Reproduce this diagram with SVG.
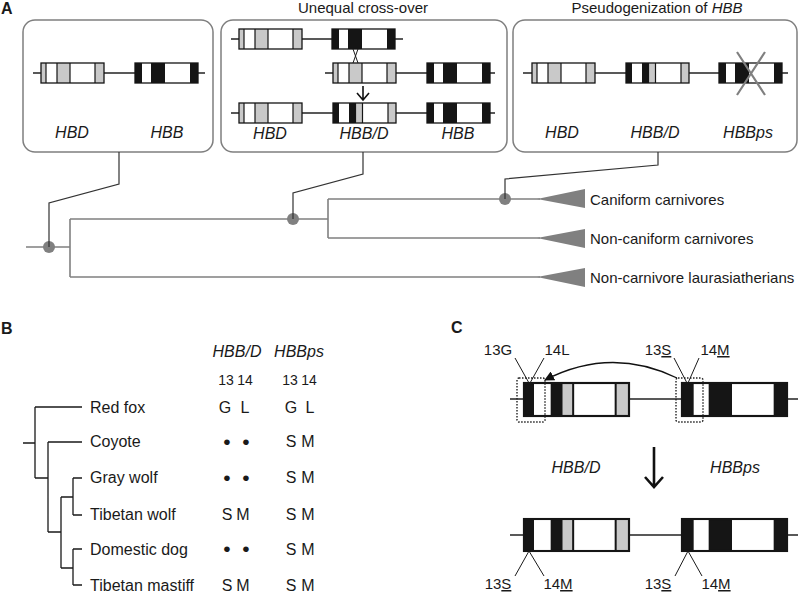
<svg xmlns="http://www.w3.org/2000/svg" xmlns:xlink="http://www.w3.org/1999/xlink" width="799" height="594" viewBox="0 0 799 594">
<style>
text{font-family:"Liberation Sans",Arial,sans-serif;fill:#1a1a1a}
.pl{font-size:16px;font-weight:bold}
.ti{font-size:15px}
.gn{font-size:16px;font-style:italic;text-anchor:middle}
.tx{font-size:15px}
.sp{font-size:16px}
.vl{font-size:16px;text-anchor:middle}
.bu{font-size:21px;text-anchor:middle}
.nm{font-size:14px;text-anchor:middle}
.box{fill:#fff;stroke:#7f7f7f;stroke-width:1.5}
.intr{stroke:#222;stroke-width:1.3;fill:none}
.tr{stroke:#808080;stroke-width:1.6;fill:none}
.cn{stroke:#333;stroke-width:1.2;fill:none}
.dot{fill:#808080}
.gr{fill:#c9c9c9}
.bk{fill:#151515}
.dv{stroke:#151515;stroke-width:1.2;fill:none}
.ol{fill:none;stroke:#151515;stroke-width:1.3}
.ln{stroke:#1a1a1a;stroke-width:1;fill:none}
.dt{fill:none;stroke:#222;stroke-width:1.4;stroke-dasharray:1.5 1.5}
.ul{text-decoration:underline}
</style>
<defs>
<symbol id="gD" viewBox="0 0 63 20" preserveAspectRatio="none" overflow="visible">
<rect width="63" height="20" fill="#fff"/>
<rect x="0" width="5" height="20" class="gr"/>
<rect x="16" width="13" height="20" class="gr"/>
<rect x="54" width="9" height="20" class="gr"/>
<path d="M5,0V20M16,0V20M29,0V20M54,0V20" class="dv"/>
<rect width="63" height="20" class="ol"/>
</symbol>
<symbol id="gB" viewBox="0 0 63 20" preserveAspectRatio="none" overflow="visible">
<rect width="63" height="20" fill="#fff"/>
<rect x="0" width="7" height="20" class="bk"/>
<rect x="16" width="14" height="20" class="bk"/>
<rect x="55" width="8" height="20" class="bk"/>
<rect width="63" height="20" class="ol"/>
</symbol>
<symbol id="gBD" viewBox="0 0 63 20" preserveAspectRatio="none" overflow="visible">
<rect width="63" height="20" fill="#fff"/>
<rect x="0" width="6" height="20" class="bk"/>
<rect x="16" width="6.5" height="20" class="bk"/>
<rect x="22.5" width="7" height="20" class="gr"/>
<rect x="55" width="8" height="20" class="gr"/>
<path d="M22.5,0V20M29.5,0V20M55,0V20" class="dv"/>
<rect width="63" height="20" class="ol"/>
</symbol>
<marker id="ah" viewBox="0 0 10 10" refX="9" refY="5" markerWidth="10" markerHeight="10" markerUnits="userSpaceOnUse" orient="auto">
<path d="M0,0L10,5L0,10Z" fill="#111"/>
</marker>
</defs>

<rect width="799" height="594" fill="#fff"/>

<!-- Panel A -->
<text class="pl" x="1" y="14">A</text>

<g id="box1">
<rect class="box" x="23" y="20" width="190" height="132" rx="12"/>
<line class="intr" x1="33" y1="73" x2="205" y2="73"/>
<use xlink:href="#gD" x="41" y="63" width="63" height="20"/>
<use xlink:href="#gB" x="135" y="63" width="63" height="20"/>
<text class="gn" x="72" y="138">HBD</text>
<text class="gn" x="167" y="138">HBB</text>
</g>

<g id="box2">
<text class="ti" x="363" y="13" text-anchor="middle">Unequal cross-over</text>
<rect class="box" x="221" y="20" width="286" height="132" rx="12"/>
<line class="intr" x1="231" y1="39" x2="403" y2="39"/>
<use xlink:href="#gD" x="239" y="29" width="63" height="20"/>
<use xlink:href="#gB" x="332" y="29" width="63" height="20"/>
<path class="ln" d="M353,49L358,63M358,49L353,63"/>
<line class="intr" x1="325" y1="73" x2="495" y2="73"/>
<use xlink:href="#gD" x="333" y="63" width="63" height="20"/>
<use xlink:href="#gB" x="427" y="63" width="63" height="20"/>
<path d="M363,86V100M357,93L363,100L369,93" stroke="#111" stroke-width="1.6" fill="none"/>
<line class="intr" x1="231" y1="113" x2="495" y2="113"/>
<use xlink:href="#gD" x="239" y="103" width="63" height="20"/>
<use xlink:href="#gBD" x="333" y="103" width="63" height="20"/>
<use xlink:href="#gB" x="427" y="103" width="63" height="20"/>
<text class="gn" x="270" y="139">HBD</text>
<text class="gn" x="364" y="139">HBB/D</text>
<text class="gn" x="458" y="139">HBB</text>
</g>

<g id="box3">
<text class="ti" x="657" y="13" text-anchor="middle">Pseudogenization of <tspan font-style="italic">HBB</tspan></text>
<rect class="box" x="513" y="20" width="284" height="132" rx="12"/>
<line class="intr" x1="523" y1="73" x2="788" y2="73"/>
<use xlink:href="#gD" x="532" y="63" width="63" height="20"/>
<use xlink:href="#gBD" x="626" y="63" width="63" height="20"/>
<use xlink:href="#gB" x="719" y="63" width="63" height="20"/>
<path d="M737,52L765,95M765,52L737,95" stroke="#808080" stroke-width="2.2" fill="none"/>
<text class="gn" x="562" y="138">HBD</text>
<text class="gn" x="655" y="138">HBB/D</text>
<text class="gn" x="748" y="138">HBBps</text>
</g>

<g id="treeA">
<path class="tr" d="M26,247H70M70,219V277M70,219H328M328,199V238M328,199H540M328,238H540M70,277H540"/>
<path class="dot" d="M537,199L585,189V208Z"/>
<path class="dot" d="M537,238L585,229V248Z"/>
<path class="dot" d="M537,277L585,268V287Z"/>
<circle class="dot" cx="49" cy="247" r="6"/>
<circle class="dot" cx="293" cy="219" r="6"/>
<circle class="dot" cx="505" cy="199" r="6"/>
<text class="tx" x="590" y="205">Caniform carnivores</text>
<text class="tx" x="590" y="244">Non-caniform carnivores</text>
<text class="tx" x="590" y="283">Non-carnivore laurasiatherians</text>
</g>

<g id="connectors">
<path class="cn" d="M119,152V184L49,203V247"/>
<path class="cn" d="M363,152V174L293,193V219"/>
<path class="cn" d="M658,152V165L505,179V199"/>
</g>

<!-- Panel B -->
<text class="pl" x="1" y="334">B</text>
<g id="treeB">
<path stroke="#1a1a1a" stroke-width="1.3" fill="none" d="M23,443H35M35,407V478M35,407H82M35,478H48M48,442V532M48,442H82M48,532H61M61,497V568M61,497H73M73,478V515M73,478H82M73,515H82M61,568H73M73,549V585M73,549H82M73,585H82"/>
<text class="sp" x="90" y="413">Red fox</text>
<text class="sp" x="90" y="447">Coyote</text>
<text class="sp" x="90" y="483">Gray wolf</text>
<text class="sp" x="90" y="520">Tibetan wolf</text>
<text class="sp" x="90" y="555">Domestic dog</text>
<text class="sp" x="90" y="591">Tibetan mastiff</text>
</g>
<g id="tableB">
<text class="gn" x="237" y="357">HBB/D</text>
<text class="gn" x="299" y="357">HBBps</text>
<text class="nm" x="226" y="385">13</text><text class="nm" x="245" y="385">14</text>
<text class="nm" x="290" y="385">13</text><text class="nm" x="309" y="385">14</text>
<text class="vl" x="225" y="413">G</text><text class="vl" x="245" y="413">L</text>
<text class="vl" x="291" y="413">G</text><text class="vl" x="310" y="413">L</text>
<text class="bu" x="227" y="449">•</text><text class="bu" x="246" y="449">•</text>
<text class="vl" x="291" y="447">S</text><text class="vl" x="308" y="447">M</text>
<text class="bu" x="227" y="485">•</text><text class="bu" x="246" y="485">•</text>
<text class="vl" x="291" y="483">S</text><text class="vl" x="308" y="483">M</text>
<text class="vl" x="227" y="520">S</text><text class="vl" x="243" y="520">M</text>
<text class="vl" x="291" y="520">S</text><text class="vl" x="308" y="520">M</text>
<text class="bu" x="227" y="556">•</text><text class="bu" x="246" y="556">•</text>
<text class="vl" x="291" y="555">S</text><text class="vl" x="308" y="555">M</text>
<text class="vl" x="227" y="591">S</text><text class="vl" x="243" y="591">M</text>
<text class="vl" x="291" y="591">S</text><text class="vl" x="308" y="591">M</text>
</g>

<!-- Panel C -->
<text class="pl" x="451" y="333">C</text>
<g id="rowC1">
<line class="intr" x1="510" y1="399" x2="798" y2="399"/>
<use xlink:href="#gBD" x="524" y="383" width="105" height="33"/>
<use xlink:href="#gB" x="682" y="383" width="105" height="33"/>
<rect class="dt" x="517" y="378" width="28" height="44" rx="2"/>
<rect class="dt" x="676" y="378" width="27" height="44" rx="2"/>
<path class="ln" d="M515,358L529,383M544,358L530,383M674,358L687,383M699,358L688,383"/>
<text class="tx" x="498" y="355" text-anchor="middle">13G</text>
<text class="tx" x="557" y="355" text-anchor="middle">14L</text>
<text class="tx" x="658" y="355" text-anchor="middle">13<tspan class="ul">S</tspan></text>
<text class="tx" x="715" y="355" text-anchor="middle">14<tspan class="ul">M</tspan></text>
<path d="M677,378Q611,346 545,380" stroke="#111" stroke-width="1.3" fill="none" marker-end="url(#ah)"/>
</g>
<g id="arrowC">
<path d="M654,447V487M645,477L654,487L663,477" stroke="#111" stroke-width="2.6" fill="none"/>
<text class="gn" x="576" y="473">HBB/D</text>
<text class="gn" x="735" y="473">HBBps</text>
</g>
<g id="rowC2">
<line class="intr" x1="510" y1="535" x2="798" y2="535"/>
<use xlink:href="#gBD" x="524" y="519" width="105" height="32"/>
<use xlink:href="#gB" x="682" y="519" width="105" height="32"/>
<path class="ln" d="M529,551L515,576M529,551L544,576M688,551L675,576M688,551L702,576"/>
<text class="tx" x="498" y="589" text-anchor="middle">13<tspan class="ul">S</tspan></text>
<text class="tx" x="558" y="589" text-anchor="middle">14<tspan class="ul">M</tspan></text>
<text class="tx" x="658" y="589" text-anchor="middle">13<tspan class="ul">S</tspan></text>
<text class="tx" x="716" y="589" text-anchor="middle">14<tspan class="ul">M</tspan></text>
</g>
</svg>
